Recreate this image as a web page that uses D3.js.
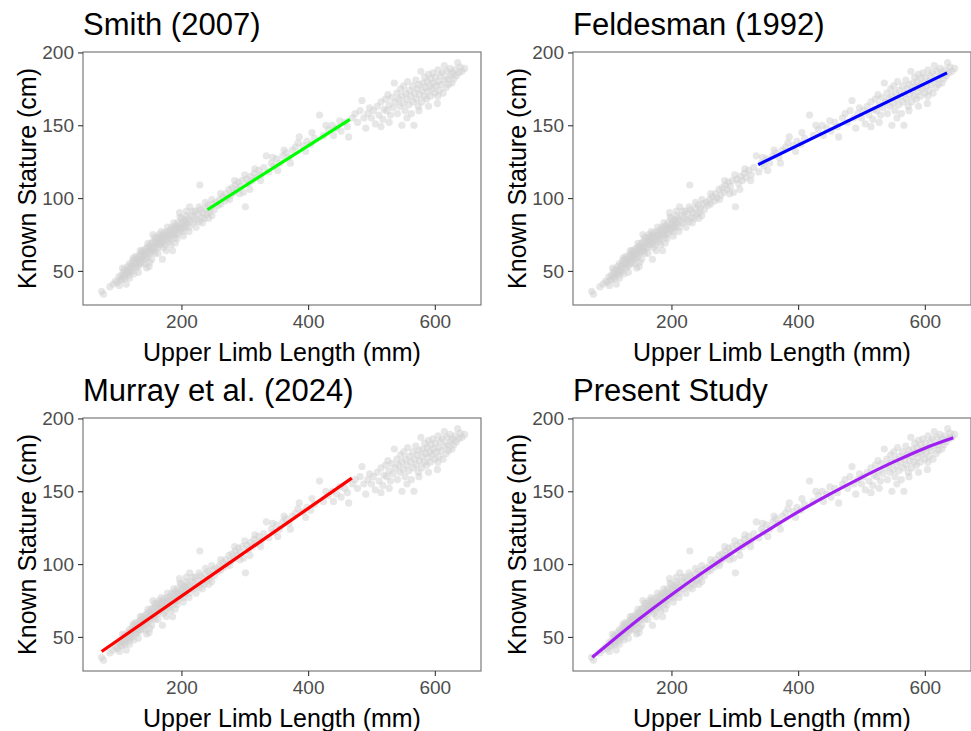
<!DOCTYPE html>
<html>
<head>
<meta charset="utf-8">
<script src="https://cdn.jsdelivr.net/npm/d3@7"></script>
<style>
  body { margin: 0; background: #fff; }
  svg { font-family: "Liberation Sans", Arial, Helvetica, sans-serif; }
</style>
</head>
<body>
<div id="chart"></div>
<script>
// 관측치 (상지 길이 mm, 신장 cm) - 그림에서 읽은 값
const observations = [
  [74,36],[77,34],[87,39],[92,41],[96,43],[99,42],[101,46],[104,44],[113,41],
  [105,47],[106,44],[108,49],[109,46],[110,51],[111,45],[112,48],[114,50],[115,53],[116,47],
  [117,50],[118,55],[119,49],[120,52],[121,54],[122,50],[123,57],[124,53],[125,48],[126,55],
  [127,58],[128,52],[129,56],[130,54],[131,59],[132,53],[133,57],[134,61],[135,55],[136,58],
  [137,62],[138,56],[139,60],[140,63],[141,58],[142,61],[143,65],[144,59],[145,62],[146,66],
  [147,60],[148,64],[149,67],[150,62],[151,65],[152,69],[153,63],[154,66],[155,70],[156,64],
  [157,67],[158,62],[159,71],[160,66],[128,60],[135,64],[150,56],[145,52],[149,53],[155,75],
  [165,75],[176,64],[186,64],
  [102,40],[107,52],[118,45],[124,59],[132,49],[138,64],[142,55],[147,69],[153,58],[158,73],
  [163,62],[168,77],[172,66],[178,80],[183,68],[188,83],[193,72],[198,87],[203,74],[208,91],
  [212,77],[218,91],[223,80],[228,94],[233,83],[238,97],[243,86],[248,99],[170,58],[190,69],
  [161,69],[162,73],[163,66],[164,70],[166,68],[167,72],[168,70],[169,74],[170,69],[171,73],
  [172,76],[173,71],[174,68],[175,74],[177,77],[178,72],[179,75],[180,70],[181,74],[182,78],
  [183,72],[184,76],[185,80],[187,75],[188,79],[189,73],[190,77],[191,81],[192,75],[193,79],
  [194,83],[195,76],[196,80],[197,90],[198,78],[199,82],[200,86],[201,79],[202,83],[203,77],
  [204,81],[205,85],[206,80],[207,84],[208,88],[209,82],[210,86],[212,80],[213,94],[214,84],
  [216,88],[218,83],[220,87],[222,91],[224,85],[226,89],[228,84],[229,109],[230,92],[232,87],
  [234,90],[236,86],[238,93],[240,89],[242,95],[244,90],[246,93],[248,88],[250,96],
  [252,92],[255,97],[258,95],[260,99],[262,96],[265,101],[268,98],[270,103],[272,100],[275,106],
  [278,102],[280,107],[283,104],[285,109],[288,106],[290,111],[293,108],[296,112],[298,104],[301,94],
  [303,113],[306,110],[309,115],[312,112],[315,117],[318,114],[322,119],[326,116],[330,121],[334,129],
  [338,118],[342,124],[346,122],[350,127],[355,124],[360,129],[365,131],[370,128],[375,133],[380,135],
  [386,142],[392,136],[398,139],[404,137],[410,141],[418,157],[424,143],[432,147],[438,150],[445,148],
  [452,146],[458,152],[464,142],[470,155],
  [262,103],[276,99],[284,112],[292,103],[300,116],[308,106],[316,120],[325,112],[344,128],[352,119],
  [362,133],[372,124],[384,138],[396,132],[406,145],[428,150],[440,143],[450,153],[462,149],
  [474,158],[478,152],[482,160],[485,167],[488,155],[491,148],[494,158],[497,162],[500,155],[503,160],
  [506,151],[509,163],[512,157],[515,166],[518,154],[520,161],
  [522,168],[524,160],[526,171],[528,164],[530,157],[532,169],[534,162],[536,179],[538,166],[540,172],
  [541,158],[543,168],[545,163],[546,175],[548,170],[550,165],[551,177],[553,160],[554,172],[556,168],
  [557,180],[559,164],[560,174],[562,170],[563,158],[565,177],[566,166],[567,150],[568,172],[570,181],
  [571,168],[572,175],[574,163],[575,178],[576,171],[578,187],[579,166],[580,174],[581,179],[583,170],
  [584,183],[585,176],[587,168],[588,180],[589,173],[590,185],[592,177],[593,170],[594,182],[596,175],
  [597,186],[598,179],[600,172],[601,183],[602,177],[604,165],[605,188],[606,180],[607,174],[609,184],
  [610,178],[612,186],[613,172],[615,191],[616,181],[618,176],[619,187],[620,182],[622,178],[624,189],
  [625,184],[627,179],[628,186],[630,182],[632,188],[634,184],[636,193],[638,186],[640,190],[643,187],
  [647,189],[515,149],[528,152],[548,150],[556,155],[575,160],[590,163],[605,170]
];

// 각 연구의 추정선
const smithLine = [[241,92],[466,154]];
const feldesmanLine = [[337,123],[635,186]];
const murrayLine = [[74,40],[469,159]];
const presentCurve = [
  [75,36],[100,45],[150,62.6],[200,79],[250,94.4],[300,108.9],[350,122.6],
  [400,135.8],[450,148],[500,159.4],[550,170],[600,179.6],[645,186.7]
];

const panelTitles = ['Smith (2007)', 'Feldesman (1992)', 'Murray et al. (2024)', 'Present Study'];
const lineColors = ['#00ff00', '#0000ff', '#ff0000', '#a020f0'];
const xTicks = [200, 400, 600];
const yTicks = [50, 100, 150, 200];

const width = 971, height = 731;
const pw = 398, ph = 253;
const panelPos = [[83, 52], [573, 52], [83, 418], [573, 418]];

const svg = d3.select('#chart').append('svg')
  .attr('width', width)
  .attr('height', height);

const x = d3.scaleLinear().domain([44.6, 672.9]).range([0, pw]);
const y = d3.scaleLinear().domain([26.6, 200.3]).range([ph, 0]);

const fits = [smithLine, feldesmanLine, murrayLine, presentCurve];

panelPos.forEach(([px, py], i) => {
  const g = svg.append('g').attr('transform', `translate(${px},${py})`);

  // 제목
  g.append('text')
    .attr('x', 0)
    .attr('y', -17)
    .attr('font-size', 31)
    .attr('fill', '#000')
    .text(panelTitles[i]);

  // 점
  g.append('g').selectAll('circle')
    .data(observations)
    .join('circle')
    .attr('cx', d => x(d[0]))
    .attr('cy', d => y(d[1]))
    .attr('r', 3.6)
    .attr('fill', '#d0d0d0')
    .attr('fill-opacity', 0.5);

  // 추정선
  const line = d3.line()
    .x(d => x(d[0]))
    .y(d => y(d[1]))
    .curve(i === 3 ? d3.curveMonotoneX : d3.curveLinear);

  g.append('path')
    .datum(fits[i])
    .attr('d', line)
    .attr('fill', 'none')
    .attr('stroke', lineColors[i])
    .attr('stroke-width', 3.2);

  // 테두리
  g.append('rect')
    .attr('width', pw)
    .attr('height', ph)
    .attr('fill', 'none')
    .attr('stroke', '#7a7a7a')
    .attr('stroke-width', 1.2);

  // 축
  const xAxis = g.append('g')
    .attr('transform', `translate(0,${ph})`)
    .call(d3.axisBottom(x).tickValues(xTicks).tickSize(5).tickPadding(5));
  const yAxis = g.append('g')
    .call(d3.axisLeft(y).tickValues(yTicks).tickSize(5).tickPadding(4));

  [xAxis, yAxis].forEach(a => {
    a.select('.domain').remove();
    a.selectAll('line').attr('stroke', '#333').attr('stroke-width', 1.1);
    a.selectAll('text')
      .attr('font-size', 19)
      .attr('fill', '#4d4d4d')
      .attr('font-family', '"Liberation Sans", Arial, sans-serif');
  });

  // 축 제목
  g.append('text')
    .attr('x', pw / 2)
    .attr('y', ph + 56)
    .attr('text-anchor', 'middle')
    .attr('font-size', 25)
    .attr('fill', '#000')
    .text('Upper Limb Length (mm)');

  g.append('text')
    .attr('transform', `translate(${-47},${ph / 2}) rotate(-90)`)
    .attr('text-anchor', 'middle')
    .attr('font-size', 25)
    .attr('fill', '#000')
    .text('Known Stature (cm)');
});
</script>
</body>
</html>
